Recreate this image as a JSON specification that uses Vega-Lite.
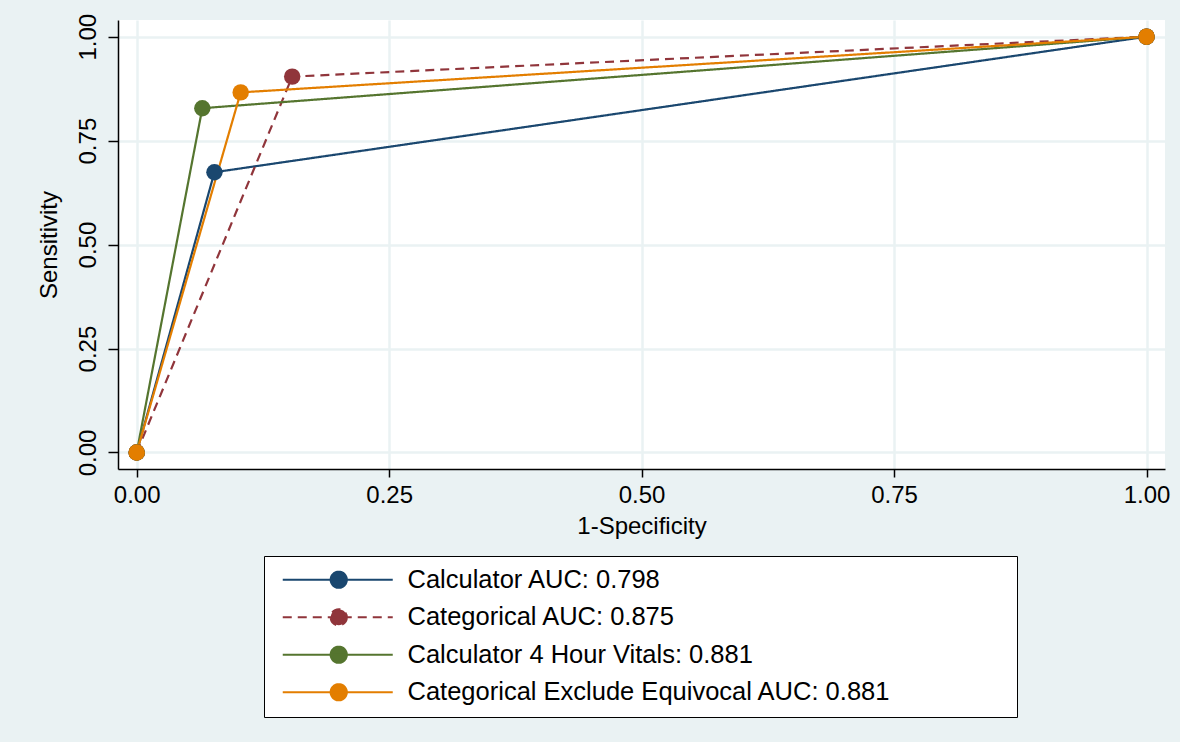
{
  "$schema": "https://vega.github.io/schema/vega-lite/v6.json",
  "width": 1047,
  "height": 449,
  "autosize": {"type": "none"},
  "padding": {"left": 118, "top": 20, "right": 15, "bottom": 273},
  "background": "#eaf2f3",
  "config": {
    "view": {"fill": "white", "stroke": null},
    "font": "Liberation Sans"
  },
  "data": {
    "values": [
      {"series": "Calculator AUC: 0.798", "fpr": 0, "tpr": 0},
      {"series": "Calculator AUC: 0.798", "fpr": 0.077, "tpr": 0.674},
      {"series": "Calculator AUC: 0.798", "fpr": 1, "tpr": 1},
      {"series": "Categorical AUC: 0.875", "fpr": 0, "tpr": 0},
      {"series": "Categorical AUC: 0.875", "fpr": 0.154, "tpr": 0.904},
      {"series": "Categorical AUC: 0.875", "fpr": 1, "tpr": 1},
      {"series": "Calculator 4 Hour Vitals: 0.881", "fpr": 0, "tpr": 0},
      {"series": "Calculator 4 Hour Vitals: 0.881", "fpr": 0.065, "tpr": 0.828},
      {"series": "Calculator 4 Hour Vitals: 0.881", "fpr": 1, "tpr": 1},
      {"series": "Categorical Exclude Equivocal AUC: 0.881", "fpr": 0, "tpr": 0},
      {"series": "Categorical Exclude Equivocal AUC: 0.881", "fpr": 0.103, "tpr": 0.866},
      {"series": "Categorical Exclude Equivocal AUC: 0.881", "fpr": 1, "tpr": 1}
    ]
  },
  "mark": {"type": "line", "strokeWidth": 2.2, "point": {"filled": true, "size": 270, "opacity": 1}},
  "encoding": {
    "x": {
      "field": "fpr", "type": "quantitative", "title": "1-Specificity",
      "scale": {"domain": [-0.0185, 1.0183], "nice": false, "zero": false},
      "axis": {
        "values": [0, 0.25, 0.5, 0.75, 1], "format": ".2f",
        "domainColor": "black", "domainWidth": 1.5,
        "tickColor": "black", "tickSize": 8, "tickWidth": 1.5,
        "gridColor": "#eaf2f3", "gridWidth": 2.5,
        "labelFontSize": 24, "labelColor": "black", "labelPadding": 6,
        "titleFontSize": 24, "titleFontWeight": "normal", "titleColor": "black", "titlePadding": 7
      }
    },
    "y": {
      "field": "tpr", "type": "quantitative", "title": "Sensitivity",
      "scale": {"domain": [-0.0397, 1.0401], "nice": false, "zero": false},
      "axis": {
        "values": [0, 0.25, 0.5, 0.75, 1], "format": ".2f",
        "domainColor": "black", "domainWidth": 1.5,
        "tickColor": "black", "tickSize": 10, "tickWidth": 1.5,
        "gridColor": "#eaf2f3", "gridWidth": 2.5,
        "labelAngle": 270, "labelFontSize": 24, "labelColor": "black", "labelPadding": 8,
        "titleFontSize": 24, "titleFontWeight": "normal", "titleColor": "black", "titlePadding": 15
      }
    },
    "color": {
      "field": "series", "type": "nominal", "sort": null,
      "scale": {
        "domain": ["Calculator AUC: 0.798", "Categorical AUC: 0.875", "Calculator 4 Hour Vitals: 0.881", "Categorical Exclude Equivocal AUC: 0.881"],
        "range": ["#1a476f", "#90353b", "#55752f", "#e37e00"]
      },
      "legend": {
        "title": null, "orient": "none", "legendX": 146, "legendY": 536, "direction": "vertical",
        "strokeColor": "black", "fillColor": "white", "padding": 11, "cornerRadius": 0,
        "labelFontSize": 25.5, "labelColor": "black", "labelOffset": 107, "rowPadding": 10.5, "labelLimit": 1000,
        "symbolSize": 256, "symbolStrokeWidth": 2.2, "symbolOpacity": 1,
        "symbolType": "M-0.625,0H13.125M7.375,0A1,1 0 1,1 5.375,0A1,1 0 1,1 7.375,0ZM89.2,0",
        "encode": {"symbols": {"update": {"fill": {"scale": "color", "field": "value"}, "stroke": {"scale": "color", "field": "value"}}}}
      }
    },
    "strokeDash": {
      "field": "series", "type": "nominal", "sort": null,
      "scale": {
        "domain": ["Calculator AUC: 0.798", "Categorical AUC: 0.875", "Calculator 4 Hour Vitals: 0.881", "Categorical Exclude Equivocal AUC: 0.881"],
        "range": [[1, 0], [9, 6], [1, 0], [1, 0]]
      },
      "legend": {
        "title": null, "orient": "none", "legendX": 146, "legendY": 536, "direction": "vertical",
        "strokeColor": "black", "fillColor": "white", "padding": 11, "cornerRadius": 0,
        "labelFontSize": 25.5, "labelColor": "black", "labelOffset": 107, "rowPadding": 10.5, "labelLimit": 1000,
        "symbolSize": 256, "symbolStrokeWidth": 2.2, "symbolOpacity": 1,
        "symbolType": "M-0.625,0H13.125M7.375,0A1,1 0 1,1 5.375,0A1,1 0 1,1 7.375,0ZM89.2,0",
        "encode": {"symbols": {"update": {"fill": {"scale": "color", "field": "value"}, "stroke": {"scale": "color", "field": "value"}}}}
      }
    }
  }
}
